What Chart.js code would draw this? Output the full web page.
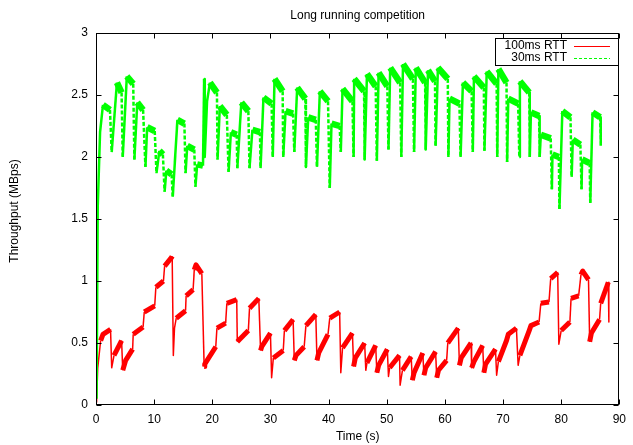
<!DOCTYPE html>
<html><head><meta charset="utf-8">
<script src="https://cdn.jsdelivr.net/npm/chart.js@4.4.1/dist/chart.umd.min.js"></script>
<style>html,body{margin:0;padding:0;background:#fff}#wrap{width:633px;height:445px}</style>
</head><body><div id="wrap"><canvas id="c" width="633" height="445"></canvas></div>
<script>
const titleText = "Long running competition";
const xTitle = "Time (s)";
const yTitle = "Throughput (MBps)";
const seriesNames = ["100ms RTT", "30ms RTT"];
const xTicks = [0, 10, 20, 30, 40, 50, 60, 70, 80, 90];
const yTicks = [0, 0.5, 1, 1.5, 2, 2.5, 3];

const redTime = [0.1,0.3,0.8,1.2,2.5,2.7,3.1,4.4,4.6,5.1,6.3,6.4,8.1,8.3,
10.1,10.3,11.6,11.8,13.0,13.1,13.3,13.5,13.8,15.4,15.5,16.7,16.9,17.2,18.2,18.6,18.7,20.6,20.8,22.3,22.5,24.2,24.3,26.2,26.4,
28.0,28.3,28.5,30.0,30.2,30.5,32.2,32.4,33.9,34.1,34.4,35.8,36.1,37.8,38.0,38.3,39.9,40.2,41.9,42.1,42.4,44.1,44.3,44.6,
46.2,46.4,46.6,48.1,48.3,48.6,50.1,50.3,50.5,52.2,52.3,52.7,54.2,54.4,54.7,56.2,56.4,56.7,58.4,58.6,58.9,60.3,60.5,62.3,62.5,62.8,
64.5,64.6,65.0,66.5,66.7,67.0,68.7,68.9,69.2,70.6,70.9,72.3,72.6,72.9,74.5,74.8,76.2,76.5,77.9,78.2,79.4,79.6,
80.0,81.5,81.7,83.0,83.4,83.7,84.7,84.9,85.2,86.6,86.8,88.1,88.2];
const redValue = [0.02,0.3,0.52,0.57,0.61,0.30,0.40,0.52,0.28,0.36,0.45,0.57,0.63,0.75,
0.80,0.95,1.0,1.12,1.19,1.20,0.40,0.62,0.70,0.76,0.88,0.93,1.09,1.13,1.06,0.31,0.33,0.47,0.62,0.66,0.82,0.85,0.51,0.60,0.78,
0.86,0.44,0.47,0.58,0.22,0.38,0.44,0.60,0.69,0.36,0.40,0.47,0.64,0.73,0.36,0.42,0.57,0.70,0.75,0.26,0.46,0.58,0.31,0.38,
0.50,0.28,0.34,0.48,0.26,0.32,0.45,0.23,0.30,0.40,0.16,0.28,0.39,0.20,0.26,0.42,0.24,0.30,0.43,0.22,0.28,0.36,0.50,0.62,0.32,0.38,
0.50,0.30,0.35,0.48,0.26,0.33,0.45,0.24,0.35,0.52,0.57,0.62,0.32,0.40,0.60,0.64,0.67,0.82,0.83,1.02,1.07,0.49,
0.60,0.67,0.86,0.88,1.05,1.08,1.01,0.51,0.58,0.69,0.82,0.99,0.67];

const greenTime = [0.1,0.3,0.7,1.2,2.4,2.7,3.6,4.4,4.6,5.3,6.4,6.6,7.1,8.1,8.5,8.8,
10.1,10.4,10.9,11.5,11.8,12.1,13.0,13.2,14.0,15.2,15.4,15.7,16.9,17.1,17.4,18.4,18.6,18.7,19.1,19.6,20.8,20.9,21.3,22.5,22.8,23.2,24.2,24.3,25.0,26.2,26.4,26.9,
28.2,28.3,28.8,30.2,30.4,30.7,32.1,32.2,32.6,33.9,34.1,34.6,36.0,36.1,36.5,37.8,38.0,38.5,39.9,40.2,40.5,41.9,42.1,42.4,44.1,44.3,44.4,
46.1,46.2,46.6,48.1,48.3,48.6,50.1,50.3,50.6,52.3,52.5,52.8,54.5,54.7,55.0,56.6,56.7,57.1,58.3,58.4,58.8,60.5,60.6,60.8,62.5,62.7,
63.1,64.6,64.8,65.0,66.7,66.8,67.2,68.9,69.0,69.2,70.6,70.7,70.9,72.6,72.8,72.9,74.5,74.6,74.8,76.2,76.3,76.5,78.2,78.4,78.5,79.6,79.7,
80.2,81.6,81.8,82.0,83.3,83.5,83.6,84.9,85.0,85.4,86.7,86.8];
const greenValue = [0.05,1.6,2.2,2.42,2.38,2.04,2.60,2.52,2.0,2.65,2.59,1.98,2.44,2.38,1.92,2.24,
2.21,1.87,2.05,2.02,1.72,1.89,1.86,1.68,2.30,2.27,1.87,2.09,2.06,1.76,1.94,1.93,2.63,2.0,2.45,2.60,2.52,1.98,2.41,2.34,1.88,2.20,2.18,1.91,2.44,2.37,1.91,2.22,
2.20,1.91,2.48,2.43,2.0,2.63,2.53,2.0,2.37,2.35,2.04,2.56,2.47,1.92,2.32,2.30,1.92,2.53,2.45,1.75,2.27,2.25,2.04,2.55,2.45,2.0,2.63,
2.53,1.98,2.67,2.57,1.97,2.68,2.57,2.06,2.72,2.60,2.0,2.75,2.63,2.04,2.72,2.60,2.06,2.70,2.61,2.09,2.72,2.63,2.0,2.47,2.43,2.0,
2.60,2.53,2.04,2.65,2.56,2.05,2.69,2.59,2.0,2.71,2.60,1.96,2.47,2.43,2.0,2.61,2.52,2.0,2.36,2.33,2.0,2.18,2.15,1.74,2.02,2.00,1.58,
2.37,2.32,1.84,2.14,2.10,1.74,1.98,1.95,1.63,2.36,2.32,2.09];

const redColor = '#ff0000';
const greenColor = '#00ff00';
const FONT = "'Liberation Sans', Arial, Helvetica, sans-serif";

function pts(t, v){ return t.map((x,i)=>({x:x, y:v[i]})); }
function isSteep(c){ return Math.abs(c.p1.y - c.p0.y) > 5 * Math.abs(c.p1.x - c.p0.x); }
function isDrop(c){ return isSteep(c) && c.p1.y > c.p0.y; }

const framePlugin = {
  id: 'frame',
  afterDraw(chart){
    const {ctx, chartArea:a, scales} = chart;
    const xs = scales.x, ys = scales.y;
    const L = Math.round(a.left)+0.5, R = Math.round(a.right)-0.5, T = Math.round(a.top)+0.5, B = Math.round(a.bottom)-0.5;
    ctx.save();
    ctx.strokeStyle = '#000'; ctx.lineWidth = 1;
    ctx.beginPath();
    xTicks.forEach(v=>{
      const p = Math.round(xs.getPixelForValue(v))+0.5;
      ctx.moveTo(p,B); ctx.lineTo(p,B-5);
      ctx.moveTo(p,T); ctx.lineTo(p,T+5);
    });
    yTicks.forEach(v=>{
      const p = Math.round(ys.getPixelForValue(v))+0.5;
      ctx.moveTo(L,p); ctx.lineTo(L+5,p);
      ctx.moveTo(R,p); ctx.lineTo(R-5,p);
    });
    ctx.stroke();
    ctx.strokeRect(L, T, R-L, B-T);
    ctx.fillStyle = '#000';
    ctx.font = '12px ' + FONT;
    ctx.textAlign = 'center'; ctx.textBaseline = 'middle';
    const cx = (a.left + a.right)/2;
    ctx.fillText(titleText, cx, 16);
    ctx.fillText(xTitle, cx, 437);
    ctx.save();
    ctx.translate(15, 211); ctx.rotate(-Math.PI/2);
    ctx.fillText(yTitle, 0, 0);
    ctx.restore();
    const lx0 = 495, ly0 = 38, lx1 = 618, ly1 = 65;
    ctx.fillStyle = '#fff';
    ctx.fillRect(lx0, ly0, lx1-lx0, ly1-ly0);
    ctx.strokeStyle = '#000';
    ctx.strokeRect(lx0+0.5, ly0+0.5, lx1-lx0, ly1-ly0);
    ctx.fillStyle = '#000';
    ctx.textAlign = 'right';
    const rows = [[seriesNames[0], redColor, []],[seriesNames[1], greenColor, [3,2]]];
    rows.forEach((r,i)=>{
      const yy = 45.5 + i*12;
      ctx.fillText(r[0], 567, yy);
      ctx.strokeStyle = r[1]; ctx.setLineDash(r[2]); ctx.lineWidth = 1;
      ctx.beginPath(); ctx.moveTo(574, Math.round(yy)+0.5); ctx.lineTo(610, Math.round(yy)+0.5); ctx.stroke();
    });
    ctx.restore();
  }
};

new Chart(document.getElementById('c'), {
  type: 'line',
  data: {
    datasets: [
      { label: seriesNames[0], data: pts(redTime, redValue), borderColor: redColor, borderWidth: 4,
        pointRadius: 0, tension: 0, borderJoinStyle: 'round', borderCapStyle: 'butt', order: 2,
        segment: { borderWidth: c => isSteep(c) ? 1.5 : 5 } },
      { label: seriesNames[1], data: pts(greenTime, greenValue), borderColor: greenColor, borderWidth: 5,
        pointRadius: 0, tension: 0, borderJoinStyle: 'round', borderCapStyle: 'butt', order: 1,
        segment: { borderWidth: c => isSteep(c) ? 2.5 : 6.5, borderDash: c => isDrop(c) ? [4,2] : [] } }
    ]
  },
  options: {
    responsive: false, animation: false, devicePixelRatio: 1,
    layout: { padding: { top: 33, right: 9, left: 0, bottom: 0 } },
    plugins: { legend: { display: false }, title: { display: false }, tooltip: { enabled: false } },
    scales: {
      x: { type: 'linear', min: 0, max: 90,
        afterBuildTicks: s => { s.ticks = xTicks.map(v => ({ value: v })); },
        afterFit: s => { s.height = 40; },
        grid: { display: false, drawTicks: false }, border: { display: false },
        ticks: { color: '#000', font: { family: FONT, size: 12 }, padding: 7, maxRotation: 0,
                 callback: v => String(v) } },
      y: { type: 'linear', min: 0, max: 3,
        afterBuildTicks: s => { s.ticks = yTicks.map(v => ({ value: v })); },
        afterFit: s => { s.width = 96; },
        grid: { display: false, drawTicks: false }, border: { display: false },
        ticks: { color: '#000', font: { family: FONT, size: 12 }, padding: 8,
                 callback: v => String(v) } }
    }
  },
  plugins: [framePlugin]
});
</script></body></html>
